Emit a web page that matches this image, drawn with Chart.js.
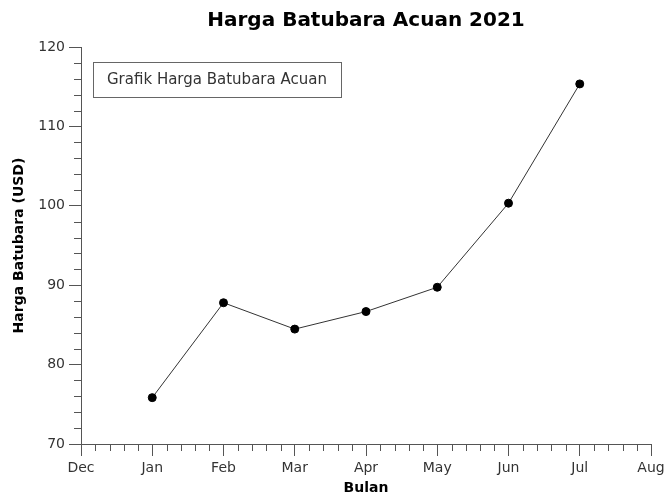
<!DOCTYPE html>
<html>
<head>
    <title>Harga Batubara Acuan 2021</title>
    <script src="https://cdn.jsdelivr.net/npm/chart.js"></script>
    <style>
        html, body { margin: 0; padding: 0; background: #fff; }
        #wrap { width: 665px; height: 497px; }
    </style>
</head>
<body>
    <div id="wrap">
        <canvas id="myChart" width="665" height="497"></canvas>
    </div>
    <script>
        // data
        const monthLabels = ['Dec', 'Jan', 'Feb', 'Mar', 'Apr', 'May', 'Jun', 'Jul', 'Aug'];
        const monthPos = [1, 2, 3, 4, 5, 6, 7];
        const hbaValues = [75.84, 87.79, 84.47, 86.68, 89.74, 100.33, 115.35];
        const yMin = 70, yMax = 120;
        const chartTitle = 'Harga Batubara Acuan 2021';

        const font = 'DejaVu Sans';

        // minor ticks like the original (5 per month, 5 per 10 USD)
        const minorTicks = {
            id: 'minorTicks',
            afterDraw(chart) {
                const ctx = chart.ctx;
                const xs = chart.scales.x, ys = chart.scales.y;
                const area = chart.chartArea;
                ctx.save();
                ctx.strokeStyle = '#555';
                ctx.lineWidth = 1;
                ctx.beginPath();
                for (let i = 0; i <= 40; i++) {
                    if (i % 5 === 0) continue;
                    const px = Math.round(xs.getPixelForValue(i / 5)) + 0.5;
                    ctx.moveTo(px, area.bottom);
                    ctx.lineTo(px, area.bottom + 7);
                }
                for (let v = yMin; v <= yMax; v += 2) {
                    if (v % 10 === 0) continue;
                    const py = Math.round(ys.getPixelForValue(v)) + 0.5;
                    ctx.moveTo(area.left - 7, py);
                    ctx.lineTo(area.left, py);
                }
                ctx.stroke();
                ctx.restore();
            }
        };

        // title centred over the plot area, legend box inside the plot
        const titleAndLegend = {
            id: 'titleAndLegend',
            afterDraw(chart) {
                const ctx = chart.ctx;
                const area = chart.chartArea;
                ctx.save();
                ctx.fillStyle = '#000';
                ctx.font = 'bold 20px "' + font + '"';
                ctx.textAlign = 'center';
                ctx.textBaseline = 'middle';
                ctx.fillText(chartTitle, (area.left + area.right) / 2, 21);

                const label = chart.data.datasets[0].label;
                const x = area.left + 12, y = area.top + 15;
                ctx.font = '15px "' + font + '"';
                ctx.textAlign = 'left';
                const w = ctx.measureText(label).width + 28;
                ctx.strokeStyle = '#666';
                ctx.lineWidth = 1;
                ctx.fillStyle = '#fff';
                ctx.fillRect(x + 0.5, y + 0.5, Math.round(w), 35);
                ctx.strokeRect(x + 0.5, y + 0.5, Math.round(w), 35);
                ctx.fillStyle = '#333';
                ctx.fillText(label, x + 14, y + 18);
                ctx.restore();
            }
        };

        const ctx = document.getElementById('myChart').getContext('2d');
        const myChart = new Chart(ctx, {
            type: 'line',
            data: {
                datasets: [{
                    label: 'Grafik Harga Batubara Acuan',
                    data: monthPos.map((m, i) => ({ x: m, y: hbaValues[i] })),
                    borderColor: '#333',
                    borderWidth: 1,
                    pointBackgroundColor: '#000',
                    pointBorderColor: '#000',
                    pointRadius: 4,
                    tension: 0
                }]
            },
            options: {
                responsive: false,
                animation: false,
                layout: { autoPadding: false, padding: { top: 47, right: 14, bottom: 0, left: 0 } },
                plugins: {
                    legend: { display: false },
                    tooltip: { enabled: false },
                    title: { display: false }
                },
                scales: {
                    x: {
                        type: 'linear',
                        min: 0,
                        max: monthLabels.length - 1,
                        afterFit: s => {
                            s.height = 53;
                            s.paddingLeft = 0;
                            s.paddingRight = 0;
                        },
                        ticks: {
                            stepSize: 1,
                            color: '#333',
                            padding: 4,
                            maxRotation: 0,
                            font: { family: font, size: 14 },
                            callback: v => monthLabels[v]
                        },
                        grid: { drawOnChartArea: false, tickLength: 12, color: '#555', tickColor: '#555' },
                        border: { color: '#555', width: 1 },
                        title: {
                            display: true,
                            text: 'Bulan',
                            color: '#000',
                            font: { family: font, size: 14, weight: 'bold' },
                            padding: { top: 0, bottom: 0 }
                        }
                    },
                    y: {
                        min: yMin,
                        max: yMax,
                        afterFit: s => {
                            s.width = 81;
                            s.paddingTop = 0;
                            s.paddingBottom = 0;
                        },
                        ticks: {
                            stepSize: 10,
                            color: '#333',
                            padding: 4,
                            font: { family: font, size: 14 }
                        },
                        grid: { drawOnChartArea: false, tickLength: 12, color: '#555', tickColor: '#555' },
                        border: { color: '#555', width: 1 },
                        title: {
                            display: true,
                            text: 'Harga Batubara (USD)',
                            color: '#000',
                            font: { family: font, size: 14, weight: 'bold' },
                            padding: { top: 11, bottom: 0 }
                        }
                    }
                }
            },
            plugins: [minorTicks, titleAndLegend]
        });
    </script>
</body>
</html>
